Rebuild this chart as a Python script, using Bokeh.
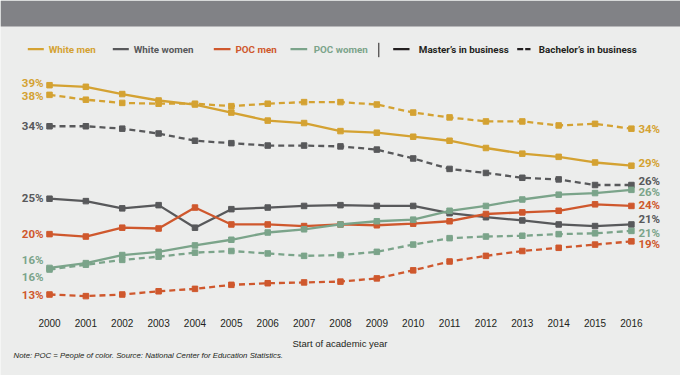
from bokeh.plotting import figure
from bokeh.models import Range1d, BoxAnnotation
from bokeh.core.properties import value
from bokeh.embed import file_html
from bokeh.resources import INLINE

# ---------------- data ----------------
years = list(range(2000, 2017))
year_labels = [str(y) for y in years]

white_men_masters = [39.0, 38.8, 37.9, 37.1, 36.6, 35.6, 34.6, 34.3, 33.3, 33.1, 32.6, 32.1, 31.2, 30.5, 30.1, 29.4, 29.0]
white_men_bachelors = [37.8, 37.2, 36.8, 36.7, 36.7, 36.4, 36.7, 36.9, 36.9, 36.6, 35.6, 35.0, 34.5, 34.5, 34.0, 34.2, 33.6]
white_women_masters = [24.9, 24.6, 23.7, 24.1, 21.3, 23.6, 23.8, 24.0, 24.1, 24.0, 24.0, 23.1, 22.6, 22.2, 21.7, 21.5, 21.7]
white_women_bachelors = [33.9, 33.9, 33.6, 33.0, 32.1, 31.8, 31.5, 31.5, 31.4, 31.0, 29.9, 28.6, 28.1, 27.5, 27.3, 26.6, 26.6]
poc_men_masters = [20.5, 20.2, 21.3, 21.2, 23.8, 21.7, 21.7, 21.5, 21.7, 21.6, 21.8, 22.1, 23.0, 23.2, 23.4, 24.2, 24.0]
poc_men_bachelors = [13.0, 12.8, 13.0, 13.4, 13.7, 14.2, 14.4, 14.5, 14.6, 15.0, 16.0, 17.1, 17.8, 18.4, 18.8, 19.2, 19.6]
poc_women_masters = [16.3, 16.9, 17.9, 18.3, 19.1, 19.8, 20.7, 21.1, 21.7, 22.1, 22.3, 23.4, 24.0, 24.8, 25.4, 25.6, 26.0]
poc_women_bachelors = [16.1, 16.7, 17.3, 17.7, 18.2, 18.4, 18.1, 17.8, 17.9, 18.3, 19.2, 20.0, 20.2, 20.3, 20.5, 20.6, 20.9]

start_labels = ["39%", "38%", "25%", "34%", "20%", "13%", "16%", "16%"]
end_labels = ["29%", "34%", "21%", "26%", "24%", "19%", "26%", "21%"]

group_names = ["White men", "White women", "POC men", "POC women"]
degree_names = ["Master\u2019s in business", "Bachelor\u2019s in business"]

title_text = "Diversity in Business Programs"
x_title = "Start of academic year"
note_text = "Note: POC =  People of color. Source: National Center for Education Statistics."

# ---------------- style ----------------
GOLD = "#D4A232"
DARK = "#58595B"
ORANGE = "#CF582D"
GREEN = "#7BA48A"
BLACK = "#231F20"
BG = "#ECEDEC"
HEADER = "#818286"
group_colors = [GOLD, DARK, ORANGE, GREEN]
DASH = "6 4"

W, H = 680, 375
# pixel geometry (figure pixels, from top-left)
X0PX, XSTEP = 49.0, 36.37      # pixel of first year, pixels per year
Y39PX, YSTEP = 84.7, 8.05      # pixel of 39 %, pixels per percentage point


def px2x(px):
    return years[0] + (px - X0PX) / XSTEP


def px2y(py):
    return 39.0 - (py - Y39PX) / YSTEP


p = figure(width=W, height=H, output_backend="svg", toolbar_location=None,
           x_axis_type=None, y_axis_type=None,
           x_range=Range1d(px2x(0), px2x(W)), y_range=Range1d(px2y(H), px2y(0)),
           min_border=0, background_fill_color=BG, border_fill_color=BG)
p.outline_line_color = None
p.grid.visible = False

HEAD = value("Roboto")
SANS = value("Liberation Sans")

# header bar
p.add_layout(BoxAnnotation(left=px2x(0), right=px2x(W), top=px2y(0), bottom=px2y(26),
                           fill_color=HEADER, fill_alpha=1.0, line_alpha=0))
p.text(x=[px2x(11.7)], y=[px2y(14)], text=[title_text], text_font=HEAD, text_font_style="bold",
       text_font_size="10.3px", text_color="white", text_baseline="middle", text_align="left")

# series
series = [
    (white_men_masters, GOLD, "solid", 0, -2.4, -2.7),
    (white_men_bachelors, GOLD, DASH, 1, 1.3, 0.3),
    (white_women_masters, DARK, "solid", 2, -1.0, -5.0),
    (white_women_bachelors, DARK, DASH, 3, 0.0, -4.4),
    (poc_men_masters, ORANGE, "solid", 4, 0.0, -1.4),
    (poc_men_bachelors, ORANGE, DASH, 5, 0.0, 2.3),
    (poc_women_masters, GREEN, "solid", 6, -7.7, 1.7),
    (poc_women_bachelors, GREEN, DASH, 7, 7.3, 2.0),
]

for vals, col, dash, idx, off_start, off_end in series:
    p.line(years, vals, line_color=col, line_width=2.3, line_dash=dash)
    p.scatter(years, vals, marker="square", size=5.5, fill_color=col, line_color=col)
    p.text(x=[years[0]], y=[vals[0]], text=[start_labels[idx]], x_offset=-6, y_offset=off_start,
           text_align="right", text_baseline="middle", text_font=HEAD, text_font_style="bold",
           text_font_size="11.5px", text_color=col)
    p.text(x=[years[-1]], y=[vals[-1]], text=[end_labels[idx]], x_offset=7, y_offset=off_end,
           text_align="left", text_baseline="middle", text_font=HEAD, text_font_style="bold",
           text_font_size="11.5px", text_color=col)

# x tick labels and notes
p.text(x=years, y=[px2y(322)] * len(years), text=year_labels, text_align="center",
       text_baseline="middle", text_font=SANS, text_font_size="10px", text_color=BLACK)
p.text(x=[px2x(339.5)], y=[px2y(343)], text=[x_title], text_align="center",
       text_baseline="middle", text_font=SANS, text_font_size="9.5px", text_color=BLACK)
p.text(x=[px2x(13)], y=[px2y(355)], text=[note_text], text_align="left",
       text_baseline="middle", text_font=SANS, text_font_style="italic",
       text_font_size="7.8px", text_color=BLACK)

# legend
LY = 48.7
LFS = "9.8px"
leg_line_x = [(27.3, 43.3), (112.3, 128.3), (213.3, 230.0), (290.0, 306.7)]
leg_text_x = [48.3, 133.3, 235.0, 313.3]
for i, name in enumerate(group_names):
    a, b = leg_line_x[i]
    p.line([px2x(a), px2x(b)], [px2y(LY), px2y(LY)], line_color=group_colors[i], line_width=2.3)
    p.text(x=[px2x(leg_text_x[i])], y=[px2y(LY)], text=[name], text_align="left",
           text_baseline="middle", text_font=HEAD, text_font_style="bold",
           text_font_size=LFS, text_color=group_colors[i])
p.line([px2x(378.3), px2x(378.3)], [px2y(42.3), px2y(56.7)], line_color=BLACK, line_width=1)
p.line([px2x(392.7), px2x(409.0)], [px2y(LY), px2y(LY)], line_color=BLACK, line_width=2.3)
p.text(x=[px2x(418.3)], y=[px2y(LY)], text=[degree_names[0]], text_align="left",
       text_baseline="middle", text_font=HEAD, text_font_style="bold",
       text_font_size=LFS, text_color=BLACK)
p.line([px2x(516.7), px2x(530.0)], [px2y(LY), px2y(LY)], line_color=BLACK, line_width=2.3,
       line_dash="6 2")
p.text(x=[px2x(538.3)], y=[px2y(LY)], text=[degree_names[1]], text_align="left",
       text_baseline="middle", text_font=HEAD, text_font_style="bold",
       text_font_size=LFS, text_color=BLACK)

open("out.html", "w").write(file_html(p, INLINE))
